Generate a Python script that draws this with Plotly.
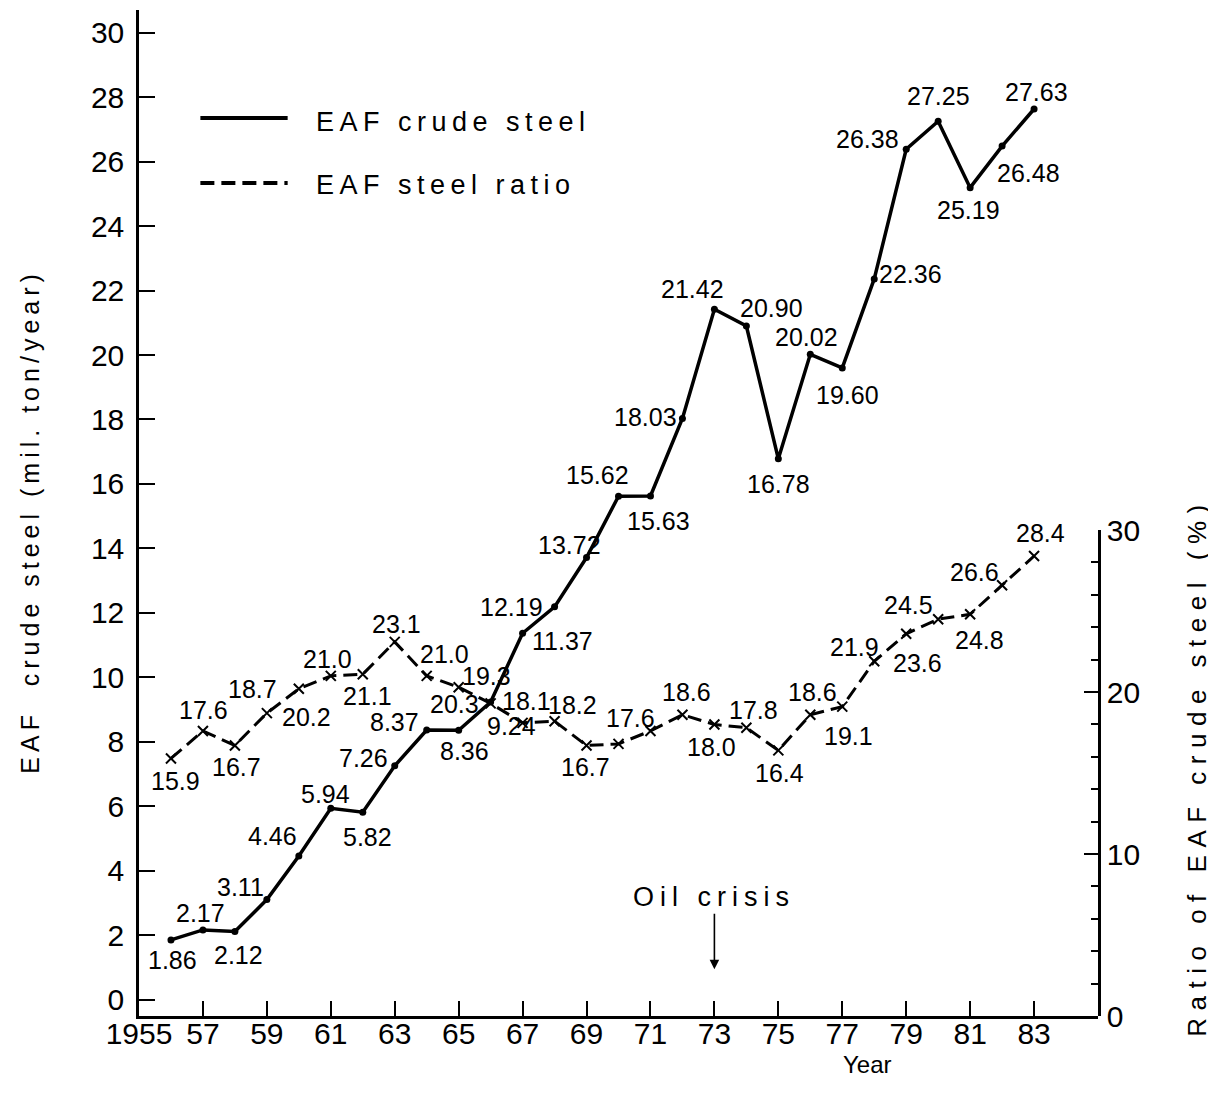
import plotly.graph_objects as go

# ---------------- data ----------------
years = list(range(1956, 1984))
eaf_steel = [1.86, 2.17, 2.12, 3.11, 4.46, 5.94, 5.82, 7.26, 8.37, 8.36,
             9.24, 11.37, 12.19, 13.72, 15.62, 15.63, 18.03, 21.42, 20.90, 16.78,
             20.02, 19.60, 22.36, 26.38, 27.25, 25.19, 26.48, 27.63]
eaf_ratio = [15.9, 17.6, 16.7, 18.7, 20.2, 21.0, 21.1, 23.1, 21.0, 20.3,
             19.3, 18.1, 18.2, 16.7, 16.8, 17.6, 18.6, 18.0, 17.8, 16.4,
             18.6, 19.1, 21.9, 23.6, 24.5, 24.8, 26.6, 28.4]
unlabeled_ratio_years = [1970]
x_tick_vals = list(range(1955, 1987, 2))
x_tick_text = ["1955"] + [str(y)[2:] for y in range(1957, 1985, 2)] + [""]
left_ticks = list(range(0, 31, 2))
right_ticks = [0, 10, 20, 30]

# ---------------- label offsets (px: right, down) ----------------
steel_off = [(2, 20), (-2, -17), (4, 23), (-26, -13), (-26, -20), (-5, -14), (5, 25),
             (-31, -8), (-32, -8), (6, 21), (21, 24), (40, 8), (-43, 0), (-17, -13),
             (-21, -21), (8, 25), (-37, -2), (-22, -20), (25, -18), (0, 25),
             (-4, -17), (5, 27), (36, -5), (-39, -10), (0, -25), (-2, 22),
             (26, 27), (2, -17)]
ratio_off = [(5, 23), (1, -21), (2, 21), (-14, -24), (8, 28), (-3, -17), (5, 22),
             (2, -18), (18, -22), (-4, 17), (-4, -27), (4, -22), (18, -16), (-1, 21),
             (0, 0), (-20, -13), (4, -23), (-3, 23), (7, -18), (1, 23),
             (2, -23), (6, 29), (-20, -14), (11, 29), (-30, -14), (9, 26),
             (-28, -13), (6, -23)]

NUM = "Liberation Sans, Arial, sans-serif"
WIDE = "Liberation Sans, Arial, sans-serif"


def spaced(t, px=6):
    return f'<span style="letter-spacing:{px}px">{t}</span>'


fig = go.Figure()

fig.add_trace(go.Scatter(
    x=years, y=eaf_steel, mode="lines+markers", yaxis="y",
    line=dict(color="black", width=3.5),
    marker=dict(symbol="circle", size=7, color="black"),
    cliponaxis=False, showlegend=False, name="EAF crude steel"))

fig.add_trace(go.Scatter(
    x=years, y=eaf_ratio, mode="lines+markers", yaxis="y2",
    line=dict(color="black", width=3, dash="14px,7px"),
    marker=dict(symbol="x-thin-open", size=10, color="black",
                line=dict(width=2, color="black")),
    cliponaxis=False, showlegend=False, name="EAF steel ratio"))

# value labels, anchored to the data points
for yr, v, (dx, dy) in zip(years, eaf_steel, steel_off):
    fig.add_annotation(x=yr, y=v, xref="x", yref="y", text=f"{v:.2f}",
                       showarrow=False, xanchor="center", yanchor="middle",
                       xshift=dx, yshift=-dy,
                       font=dict(family=NUM, size=25, color="black"))
for yr, v, (dx, dy) in zip(years, eaf_ratio, ratio_off):
    if yr in unlabeled_ratio_years:
        continue
    fig.add_annotation(x=yr, y=v, xref="x", yref="y2", text=f"{v:.1f}",
                       showarrow=False, xanchor="center", yanchor="middle",
                       xshift=dx, yshift=-dy,
                       font=dict(family=NUM, size=25, color="black"))

# manual legend (long line samples as in the original)
fig.add_shape(type="line", xref="paper", yref="paper", x0=0.064, x1=0.155,
              y0=0.8926, y1=0.8926, line=dict(color="black", width=4))
fig.add_shape(type="line", xref="paper", yref="paper", x0=0.064, x1=0.155,
              y0=0.828, y1=0.828, line=dict(color="black", width=4, dash="14px,7px"))
fig.add_annotation(xref="paper", yref="paper", x=0.183, y=0.889, xanchor="left",
                   yanchor="middle", showarrow=False, text=spaced("EAF crude steel", 5.5),
                   font=dict(family=WIDE, size=27, color="black"))
fig.add_annotation(xref="paper", yref="paper", x=0.183, y=0.826, xanchor="left",
                   yanchor="middle", showarrow=False, text=spaced("EAF steel ratio", 5.5),
                   font=dict(family=WIDE, size=27, color="black"))

# oil crisis marker
fig.add_annotation(x=1973, y=0.95, xref="x", yref="y", ax=0, ay=-72,
                   text=spaced("Oil crisis"), showarrow=True, arrowhead=2,
                   arrowsize=1.2, arrowwidth=1.6, arrowcolor="black",
                   font=dict(family=WIDE, size=27, color="black"))

# axis titles
fig.add_annotation(xref="paper", yref="paper", x=-0.114, y=0.492, textangle=-90,
                   xanchor="center", yanchor="middle",
                   showarrow=False, text=spaced("EAF  crude steel (mil. ton/year)", 5),
                   font=dict(family=WIDE, size=25, color="black"))
fig.add_annotation(xref="paper", yref="paper", x=1.103, y=0.2475, textangle=-90,
                   xanchor="center", yanchor="middle",
                   showarrow=False, text=spaced("Ratio of EAF crude steel (%)", 7.5),
                   font=dict(family=WIDE, size=26, color="black"))
fig.add_annotation(xref="paper", yref="paper", x=0.76, y=-0.048,
                   xanchor="center", yanchor="middle", showarrow=False,
                   text="Year", font=dict(family=WIDE, size=24, color="black"))

tickfont = dict(family=NUM, size=30, color="black")

fig.update_layout(
    width=1216, height=1101,
    margin=dict(l=131, r=126, t=2, b=93),
    paper_bgcolor="white", plot_bgcolor="rgba(0,0,0,0)",
    xaxis=dict(range=[1955, 1985], tickvals=x_tick_vals, ticktext=x_tick_text,
               showline=True, linecolor="black", linewidth=2.5,
               ticks="inside", ticklen=15, tickwidth=2, tickcolor="black",
               ticklabelstandoff=-11,
               showgrid=False, zeroline=False, tickfont=tickfont, automargin=False),
    yaxis=dict(range=[-0.5, 30.7], tickvals=left_ticks,
               showline=True, linecolor="black", linewidth=2.5,
               ticks="inside", ticklen=16, tickwidth=2, tickcolor="black",
               ticklabelstandoff=6,
               showgrid=False, zeroline=False, tickfont=tickfont, automargin=False),
    yaxis2=dict(range=[0, 30], domain=[0, 0.483], anchor="x", side="right",
                tickvals=right_ticks,
                showline=True, linecolor="black", linewidth=2.5,
                ticks="inside", ticklen=14, tickwidth=2, tickcolor="black",
                minor=dict(dtick=2, ticks="inside", ticklen=7, tickwidth=1.5,
                           tickcolor="black", showgrid=False),
                showgrid=False, zeroline=False, tickfont=tickfont, automargin=False),
)

fig.write_html("out.html")
